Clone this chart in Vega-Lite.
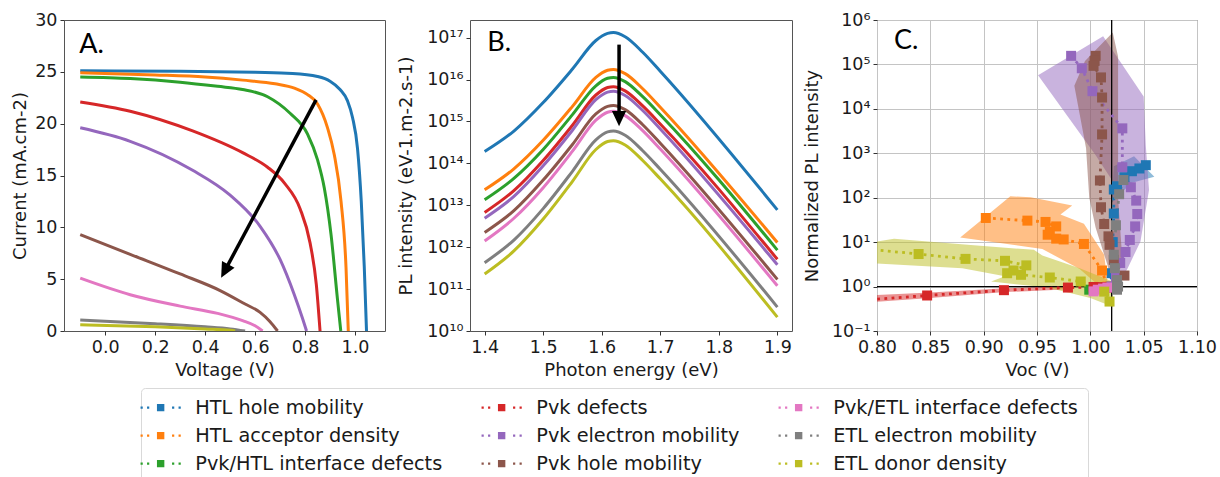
{
"$schema":"https://vega.github.io/schema/vega-lite/v6.json",
"background":"white",
"padding":{"left":10,"top":10,"right":0,"bottom":0},
"config":{
 "font":"DejaVu Sans",
 "view":{"stroke":"#555","strokeWidth":1},
 "axis":{"labelFont":"DejaVu Sans","titleFont":"DejaVu Sans","labelFontSize":17.5,"titleFontSize":18,"titleFontWeight":"normal","labelColor":"#1a1a1a","titleColor":"#1a1a1a","tickColor":"#333","tickSize":4,"labelPadding":3,"titlePadding":6,"domain":false,"grid":false,"labelFlush":false,"labelOverlap":false},
 "legend":{"orient":"none","legendX":77,"legendY":368,"columns":3,"columnPadding":38,"rowPadding":8,"padding":10,"strokeColor":"#d9d9d9","cornerRadius":4,"fillColor":"#ffffff","labelFontSize":19.3,"labelFont":"DejaVu Sans","labelColor":"#1a1a1a","labelLimit":400,"symbolType":"M-0.74,-0.74H0.74V0.74H-0.74Z M-4.02,-0.22H-3.58V0.22H-4.02Z M-2.72,-0.22H-2.28V0.22H-2.72Z M2.28,-0.22H2.72V0.22H2.28Z M3.58,-0.22H4.02V0.22H3.58Z","symbolSize":100,"symbolStrokeWidth":0,"labelOffset":25}
},
"datasets":{
"jv":[
{"s":"HTL hole mobility","v":-0.1,"j":25.1},{"s":"HTL hole mobility","v":0.3,"j":25.05},{"s":"HTL hole mobility","v":0.6,"j":24.95},{"s":"HTL hole mobility","v":0.75,"j":24.85},{"s":"HTL hole mobility","v":0.85,"j":24.55},{"s":"HTL hole mobility","v":0.9,"j":24.1},{"s":"HTL hole mobility","v":0.94,"j":23.3},{"s":"HTL hole mobility","v":0.97,"j":22.2},{"s":"HTL hole mobility","v":0.99,"j":20.6},{"s":"HTL hole mobility","v":1.01,"j":17.6},{"s":"HTL hole mobility","v":1.025,"j":12.5},{"s":"HTL hole mobility","v":1.037,"j":6.2},{"s":"HTL hole mobility","v":1.046,"j":0},
{"s":"HTL acceptor density","v":-0.1,"j":24.9},{"s":"HTL acceptor density","v":0.2,"j":24.7},{"s":"HTL acceptor density","v":0.4,"j":24.5},{"s":"HTL acceptor density","v":0.55,"j":24.2},{"s":"HTL acceptor density","v":0.68,"j":23.85},{"s":"HTL acceptor density","v":0.76,"j":23.4},{"s":"HTL acceptor density","v":0.81,"j":22.8},{"s":"HTL acceptor density","v":0.85,"j":21.9},{"s":"HTL acceptor density","v":0.89,"j":19.6},{"s":"HTL acceptor density","v":0.917,"j":17.0},{"s":"HTL acceptor density","v":0.944,"j":12.5},{"s":"HTL acceptor density","v":0.964,"j":6.1},{"s":"HTL acceptor density","v":0.973,"j":0},
{"s":"Pvk/HTL interface defects","v":-0.1,"j":24.5},{"s":"Pvk/HTL interface defects","v":0.1,"j":24.35},{"s":"Pvk/HTL interface defects","v":0.3,"j":24.0},{"s":"Pvk/HTL interface defects","v":0.45,"j":23.6},{"s":"Pvk/HTL interface defects","v":0.55,"j":23.3},{"s":"Pvk/HTL interface defects","v":0.65,"j":22.6},{"s":"Pvk/HTL interface defects","v":0.74,"j":21.0},{"s":"Pvk/HTL interface defects","v":0.81,"j":19.0},{"s":"Pvk/HTL interface defects","v":0.85,"j":16.5},{"s":"Pvk/HTL interface defects","v":0.877,"j":13.8},{"s":"Pvk/HTL interface defects","v":0.904,"j":9.3},{"s":"Pvk/HTL interface defects","v":0.93,"j":3.0},{"s":"Pvk/HTL interface defects","v":0.943,"j":0},
{"s":"Pvk defects","v":-0.1,"j":22.1},{"s":"Pvk defects","v":0.1,"j":21.2},{"s":"Pvk defects","v":0.35,"j":19.3},{"s":"Pvk defects","v":0.55,"j":17.2},{"s":"Pvk defects","v":0.65,"j":15.8},{"s":"Pvk defects","v":0.72,"j":14.2},{"s":"Pvk defects","v":0.78,"j":11.8},{"s":"Pvk defects","v":0.82,"j":8.5},{"s":"Pvk defects","v":0.845,"j":4.5},{"s":"Pvk defects","v":0.86,"j":0},
{"s":"Pvk electron mobility","v":-0.1,"j":19.6},{"s":"Pvk electron mobility","v":0.1,"j":18.3},{"s":"Pvk electron mobility","v":0.35,"j":15.5},{"s":"Pvk electron mobility","v":0.5,"j":13.1},{"s":"Pvk electron mobility","v":0.62,"j":10.1},{"s":"Pvk electron mobility","v":0.7,"j":6.9},{"s":"Pvk electron mobility","v":0.757,"j":3.5},{"s":"Pvk electron mobility","v":0.79,"j":1.2},{"s":"Pvk electron mobility","v":0.806,"j":0},
{"s":"Pvk hole mobility","v":-0.1,"j":9.3},{"s":"Pvk hole mobility","v":0.1,"j":7.4},{"s":"Pvk hole mobility","v":0.3,"j":5.5},{"s":"Pvk hole mobility","v":0.46,"j":3.9},{"s":"Pvk hole mobility","v":0.56,"j":2.6},{"s":"Pvk hole mobility","v":0.62,"j":1.8},{"s":"Pvk hole mobility","v":0.66,"j":0.9},{"s":"Pvk hole mobility","v":0.69,"j":0},
{"s":"Pvk/ETL interface defects","v":-0.1,"j":5.1},{"s":"Pvk/ETL interface defects","v":0.1,"j":3.5},{"s":"Pvk/ETL interface defects","v":0.3,"j":2.4},{"s":"Pvk/ETL interface defects","v":0.45,"j":1.7},{"s":"Pvk/ETL interface defects","v":0.55,"j":1.0},{"s":"Pvk/ETL interface defects","v":0.6,"j":0.5},{"s":"Pvk/ETL interface defects","v":0.63,"j":0},
{"s":"ETL electron mobility","v":-0.1,"j":1.05},{"s":"ETL electron mobility","v":0.2,"j":0.7},{"s":"ETL electron mobility","v":0.4,"j":0.4},{"s":"ETL electron mobility","v":0.5,"j":0.2},{"s":"ETL electron mobility","v":0.56,"j":0},
{"s":"ETL donor density","v":-0.1,"j":0.6},{"s":"ETL donor density","v":0.2,"j":0.4},{"s":"ETL donor density","v":0.4,"j":0.2},{"s":"ETL donor density","v":0.5,"j":0.08},{"s":"ETL donor density","v":0.52,"j":0}
],
"pl":[
{"s":"HTL hole mobility","e":1.40,"p":1.91e14},{"s":"HTL hole mobility","e":1.45,"p":5.89e14},{"s":"HTL hole mobility","e":1.50,"p":2.82e15},{"s":"HTL hole mobility","e":1.55,"p":1.78e16},{"s":"HTL hole mobility","e":1.59,"p":8.51e16},{"s":"HTL hole mobility","e":1.61,"p":1.26e17},{"s":"HTL hole mobility","e":1.62,"p":1.32e17},{"s":"HTL hole mobility","e":1.64,"p":1.05e17},{"s":"HTL hole mobility","e":1.67,"p":4.47e16},{"s":"HTL hole mobility","e":1.70,"p":1.58e16},{"s":"HTL hole mobility","e":1.90,"p":7.76e12},
{"s":"HTL acceptor density","e":1.40,"p":2.34e13},{"s":"HTL acceptor density","e":1.45,"p":7.41e13},{"s":"HTL acceptor density","e":1.50,"p":3.55e14},{"s":"HTL acceptor density","e":1.55,"p":2.29e15},{"s":"HTL acceptor density","e":1.59,"p":1.12e16},{"s":"HTL acceptor density","e":1.61,"p":1.66e16},{"s":"HTL acceptor density","e":1.62,"p":1.74e16},{"s":"HTL acceptor density","e":1.64,"p":1.38e16},{"s":"HTL acceptor density","e":1.67,"p":6.03e15},{"s":"HTL acceptor density","e":1.70,"p":2.19e15},{"s":"HTL acceptor density","e":1.90,"p":1.29e12},
{"s":"Pvk/HTL interface defects","e":1.40,"p":1.35e13},{"s":"Pvk/HTL interface defects","e":1.45,"p":4.37e13},{"s":"Pvk/HTL interface defects","e":1.50,"p":2.14e14},{"s":"Pvk/HTL interface defects","e":1.55,"p":1.45e15},{"s":"Pvk/HTL interface defects","e":1.59,"p":7.08e15},{"s":"Pvk/HTL interface defects","e":1.61,"p":1.07e16},{"s":"Pvk/HTL interface defects","e":1.62,"p":1.12e16},{"s":"Pvk/HTL interface defects","e":1.64,"p":8.91e15},{"s":"Pvk/HTL interface defects","e":1.67,"p":3.89e15},{"s":"Pvk/HTL interface defects","e":1.70,"p":1.45e15},{"s":"Pvk/HTL interface defects","e":1.90,"p":8.51e11},
{"s":"Pvk defects","e":1.40,"p":6.76e12},{"s":"Pvk defects","e":1.45,"p":2.24e13},{"s":"Pvk defects","e":1.50,"p":1.17e14},{"s":"Pvk defects","e":1.55,"p":8.13e14},{"s":"Pvk defects","e":1.59,"p":4.27e15},{"s":"Pvk defects","e":1.61,"p":6.46e15},{"s":"Pvk defects","e":1.62,"p":6.76e15},{"s":"Pvk defects","e":1.64,"p":5.37e15},{"s":"Pvk defects","e":1.67,"p":2.34e15},{"s":"Pvk defects","e":1.70,"p":8.71e14},{"s":"Pvk defects","e":1.90,"p":5.13e11},
{"s":"Pvk electron mobility","e":1.40,"p":4.90e12},{"s":"Pvk electron mobility","e":1.45,"p":1.62e13},{"s":"Pvk electron mobility","e":1.50,"p":8.71e13},{"s":"Pvk electron mobility","e":1.55,"p":6.17e14},{"s":"Pvk electron mobility","e":1.59,"p":3.31e15},{"s":"Pvk electron mobility","e":1.61,"p":5.01e15},{"s":"Pvk electron mobility","e":1.62,"p":5.25e15},{"s":"Pvk electron mobility","e":1.64,"p":4.17e15},{"s":"Pvk electron mobility","e":1.67,"p":1.82e15},{"s":"Pvk electron mobility","e":1.70,"p":6.61e14},{"s":"Pvk electron mobility","e":1.90,"p":3.80e11},
{"s":"Pvk hole mobility","e":1.40,"p":2.24e12},{"s":"Pvk hole mobility","e":1.45,"p":7.41e12},{"s":"Pvk hole mobility","e":1.50,"p":3.98e13},{"s":"Pvk hole mobility","e":1.55,"p":2.82e14},{"s":"Pvk hole mobility","e":1.59,"p":1.51e15},{"s":"Pvk hole mobility","e":1.61,"p":2.29e15},{"s":"Pvk hole mobility","e":1.62,"p":2.40e15},{"s":"Pvk hole mobility","e":1.64,"p":1.91e15},{"s":"Pvk hole mobility","e":1.67,"p":8.32e14},{"s":"Pvk hole mobility","e":1.70,"p":3.02e14},{"s":"Pvk hole mobility","e":1.90,"p":1.70e11},
{"s":"Pvk/ETL interface defects","e":1.40,"p":1.41e12},{"s":"Pvk/ETL interface defects","e":1.45,"p":4.90e12},{"s":"Pvk/ETL interface defects","e":1.50,"p":2.63e13},{"s":"Pvk/ETL interface defects","e":1.55,"p":1.95e14},{"s":"Pvk/ETL interface defects","e":1.59,"p":1.07e15},{"s":"Pvk/ETL interface defects","e":1.61,"p":1.66e15},{"s":"Pvk/ETL interface defects","e":1.62,"p":1.74e15},{"s":"Pvk/ETL interface defects","e":1.64,"p":1.38e15},{"s":"Pvk/ETL interface defects","e":1.67,"p":6.03e14},{"s":"Pvk/ETL interface defects","e":1.70,"p":2.19e14},{"s":"Pvk/ETL interface defects","e":1.90,"p":1.20e11},
{"s":"ETL electron mobility","e":1.40,"p":4.27e11},{"s":"ETL electron mobility","e":1.45,"p":1.48e12},{"s":"ETL electron mobility","e":1.50,"p":8.32e12},{"s":"ETL electron mobility","e":1.55,"p":6.46e13},{"s":"ETL electron mobility","e":1.59,"p":3.63e14},{"s":"ETL electron mobility","e":1.61,"p":5.62e14},{"s":"ETL electron mobility","e":1.62,"p":5.89e14},{"s":"ETL electron mobility","e":1.64,"p":4.68e14},{"s":"ETL electron mobility","e":1.67,"p":2.00e14},{"s":"ETL electron mobility","e":1.70,"p":7.24e13},{"s":"ETL electron mobility","e":1.90,"p":3.72e10},
{"s":"ETL donor density","e":1.40,"p":2.29e11},{"s":"ETL donor density","e":1.45,"p":8.13e11},{"s":"ETL donor density","e":1.50,"p":4.68e12},{"s":"ETL donor density","e":1.55,"p":3.72e13},{"s":"ETL donor density","e":1.59,"p":2.14e14},{"s":"ETL donor density","e":1.61,"p":3.31e14},{"s":"ETL donor density","e":1.62,"p":3.47e14},{"s":"ETL donor density","e":1.64,"p":2.75e14},{"s":"ETL donor density","e":1.67,"p":1.17e14},{"s":"ETL donor density","e":1.70,"p":4.27e13},{"s":"ETL donor density","e":1.90,"p":2.14e10}
],
"pts":[
{"s":"HTL hole mobility","i":1,"x":1.019,"y":1.0},{"s":"HTL hole mobility","i":2,"x":1.02,"y":2},{"s":"HTL hole mobility","i":3,"x":1.021,"y":10},{"s":"HTL hole mobility","i":4,"x":1.022,"y":44},{"s":"HTL hole mobility","i":5,"x":1.022,"y":153},{"s":"HTL hole mobility","i":6,"x":1.025,"y":181},{"s":"HTL hole mobility","i":7,"x":1.032,"y":289},{"s":"HTL hole mobility","i":8,"x":1.039,"y":395},{"s":"HTL hole mobility","i":9,"x":1.046,"y":455},{"s":"HTL hole mobility","i":10,"x":1.052,"y":540},
{"s":"HTL acceptor density","i":1,"x":0.902,"y":35},{"s":"HTL acceptor density","i":2,"x":0.941,"y":30.5},{"s":"HTL acceptor density","i":3,"x":0.958,"y":28.5},{"s":"HTL acceptor density","i":4,"x":0.968,"y":22.6},{"s":"HTL acceptor density","i":5,"x":0.962,"y":17},{"s":"HTL acceptor density","i":6,"x":0.96,"y":14.7},{"s":"HTL acceptor density","i":7,"x":0.968,"y":12},{"s":"HTL acceptor density","i":8,"x":0.975,"y":11.5},{"s":"HTL acceptor density","i":9,"x":0.994,"y":9.1},{"s":"HTL acceptor density","i":10,"x":1.011,"y":2.3},{"s":"HTL acceptor density","i":11,"x":1.016,"y":1.0},
{"s":"Pvk/HTL interface defects","i":1,"x":0.999,"y":0.85},{"s":"Pvk/HTL interface defects","i":2,"x":1.005,"y":0.9},{"s":"Pvk/HTL interface defects","i":3,"x":1.012,"y":0.95},
{"s":"Pvk defects","i":1,"x":0.78,"y":0.48},{"s":"Pvk defects","i":2,"x":0.847,"y":0.63},{"s":"Pvk defects","i":3,"x":0.919,"y":0.83},{"s":"Pvk defects","i":4,"x":0.979,"y":0.95},{"s":"Pvk defects","i":5,"x":1.003,"y":0.98},{"s":"Pvk defects","i":6,"x":1.01,"y":0.97},{"s":"Pvk defects","i":7,"x":1.015,"y":0.95},
{"s":"Pvk electron mobility","i":1,"x":0.982,"y":156000},{"s":"Pvk electron mobility","i":2,"x":0.992,"y":82000},{"s":"Pvk electron mobility","i":3,"x":1.002,"y":25000},{"s":"Pvk electron mobility","i":4,"x":1.03,"y":3640},{"s":"Pvk electron mobility","i":5,"x":1.03,"y":486},{"s":"Pvk electron mobility","i":6,"x":1.038,"y":172},{"s":"Pvk electron mobility","i":7,"x":1.043,"y":86},{"s":"Pvk electron mobility","i":8,"x":1.044,"y":43},{"s":"Pvk electron mobility","i":9,"x":1.042,"y":22.6},{"s":"Pvk electron mobility","i":10,"x":1.037,"y":11.2},{"s":"Pvk electron mobility","i":11,"x":1.033,"y":6.0},{"s":"Pvk electron mobility","i":12,"x":1.028,"y":3.4},{"s":"Pvk electron mobility","i":13,"x":1.024,"y":1.6},{"s":"Pvk electron mobility","i":14,"x":1.02,"y":1.0},
{"s":"Pvk hole mobility","i":1,"x":1.005,"y":156000},{"s":"Pvk hole mobility","i":2,"x":1.004,"y":120000},{"s":"Pvk hole mobility","i":3,"x":1.003,"y":93000},{"s":"Pvk hole mobility","i":4,"x":1.010,"y":51000},{"s":"Pvk hole mobility","i":5,"x":1.011,"y":18000},{"s":"Pvk hole mobility","i":6,"x":1.011,"y":2660},{"s":"Pvk hole mobility","i":7,"x":1.009,"y":244},{"s":"Pvk hole mobility","i":8,"x":1.010,"y":61},{"s":"Pvk hole mobility","i":9,"x":1.013,"y":25.6},{"s":"Pvk hole mobility","i":10,"x":1.017,"y":13.5},{"s":"Pvk hole mobility","i":11,"x":1.018,"y":8.7},{"s":"Pvk hole mobility","i":12,"x":1.022,"y":4.0},{"s":"Pvk hole mobility","i":13,"x":1.032,"y":1.77},
{"s":"Pvk/ETL interface defects","i":1,"x":1.003,"y":0.78},{"s":"Pvk/ETL interface defects","i":2,"x":1.007,"y":0.85},{"s":"Pvk/ETL interface defects","i":3,"x":1.012,"y":0.9},{"s":"Pvk/ETL interface defects","i":4,"x":1.016,"y":0.95},
{"s":"ETL electron mobility","i":1,"x":1.031,"y":250},{"s":"ETL electron mobility","i":2,"x":1.027,"y":120},{"s":"ETL electron mobility","i":3,"x":1.024,"y":24},{"s":"ETL electron mobility","i":4,"x":1.022,"y":5.2},{"s":"ETL electron mobility","i":5,"x":1.023,"y":2.6},{"s":"ETL electron mobility","i":6,"x":1.025,"y":1.4},{"s":"ETL electron mobility","i":7,"x":1.026,"y":1.0},{"s":"ETL electron mobility","i":8,"x":1.025,"y":0.85},
{"s":"ETL donor density","i":1,"x":0.79,"y":7.0},{"s":"ETL donor density","i":2,"x":0.839,"y":5.4},{"s":"ETL donor density","i":3,"x":0.883,"y":4.2},{"s":"ETL donor density","i":4,"x":0.920,"y":3.8},{"s":"ETL donor density","i":5,"x":0.940,"y":3.0},{"s":"ETL donor density","i":6,"x":0.922,"y":2.0},{"s":"ETL donor density","i":7,"x":0.928,"y":2.3},{"s":"ETL donor density","i":8,"x":0.935,"y":1.84},{"s":"ETL donor density","i":9,"x":0.962,"y":1.6},{"s":"ETL donor density","i":10,"x":0.991,"y":1.3},{"s":"ETL donor density","i":11,"x":1.013,"y":0.77},{"s":"ETL donor density","i":12,"x":1.018,"y":0.46}
],
"bands":[
{"s":"HTL hole mobility","i":1,"x":1.022,"y":510},{"s":"HTL hole mobility","i":2,"x":1.041,"y":860},{"s":"HTL hole mobility","i":3,"x":1.060,"y":295},{"s":"HTL hole mobility","i":4,"x":1.039,"y":216},{"s":"HTL hole mobility","i":5,"x":1.027,"y":117},{"s":"HTL hole mobility","i":6,"x":1.020,"y":76},
{"s":"HTL acceptor density","i":1,"x":0.878,"y":12.8},{"s":"HTL acceptor density","i":2,"x":0.925,"y":108},{"s":"HTL acceptor density","i":3,"x":0.944,"y":102},{"s":"HTL acceptor density","i":4,"x":0.983,"y":67},{"s":"HTL acceptor density","i":5,"x":0.972,"y":42},{"s":"HTL acceptor density","i":6,"x":0.994,"y":26},{"s":"HTL acceptor density","i":7,"x":1.013,"y":5.2},{"s":"HTL acceptor density","i":8,"x":1.016,"y":1.3},{"s":"HTL acceptor density","i":9,"x":1.007,"y":1.1},{"s":"HTL acceptor density","i":10,"x":0.99,"y":2.5},{"s":"HTL acceptor density","i":11,"x":0.955,"y":7.0},
{"s":"Pvk defects","i":1,"x":0.79,"y":0.63},{"s":"Pvk defects","i":2,"x":0.85,"y":0.74},{"s":"Pvk defects","i":3,"x":0.92,"y":0.92},{"s":"Pvk defects","i":4,"x":0.985,"y":1.03},{"s":"Pvk defects","i":5,"x":0.985,"y":0.88},{"s":"Pvk defects","i":6,"x":0.92,"y":0.75},{"s":"Pvk defects","i":7,"x":0.85,"y":0.55},{"s":"Pvk defects","i":8,"x":0.79,"y":0.44},
{"s":"Pvk electron mobility","i":1,"x":0.951,"y":57000},{"s":"Pvk electron mobility","i":2,"x":1.012,"y":430000},{"s":"Pvk electron mobility","i":3,"x":1.050,"y":19000},{"s":"Pvk electron mobility","i":4,"x":1.052,"y":1500},{"s":"Pvk electron mobility","i":5,"x":1.055,"y":150},{"s":"Pvk electron mobility","i":6,"x":1.047,"y":10.4},{"s":"Pvk electron mobility","i":7,"x":1.035,"y":2.6},{"s":"Pvk electron mobility","i":8,"x":1.028,"y":1.3},{"s":"Pvk electron mobility","i":9,"x":1.022,"y":2.6},{"s":"Pvk electron mobility","i":10,"x":1.021,"y":235},{"s":"Pvk electron mobility","i":11,"x":1.005,"y":900},
{"s":"Pvk hole mobility","i":1,"x":1.021,"y":520000},{"s":"Pvk hole mobility","i":2,"x":1.026,"y":150000},{"s":"Pvk hole mobility","i":3,"x":1.026,"y":3000},{"s":"Pvk hole mobility","i":4,"x":1.026,"y":100},{"s":"Pvk hole mobility","i":5,"x":1.03,"y":4},{"s":"Pvk hole mobility","i":6,"x":1.021,"y":1.0},{"s":"Pvk hole mobility","i":7,"x":1.016,"y":3.1},{"s":"Pvk hole mobility","i":8,"x":1.005,"y":21},{"s":"Pvk hole mobility","i":9,"x":0.999,"y":100},{"s":"Pvk hole mobility","i":10,"x":0.996,"y":1300},{"s":"Pvk hole mobility","i":11,"x":0.985,"y":33000},{"s":"Pvk hole mobility","i":12,"x":0.995,"y":120000},
{"s":"ETL donor density","i":1,"x":0.80,"y":10.4},{"s":"ETL donor density","i":2,"x":0.816,"y":12},{"s":"ETL donor density","i":3,"x":0.882,"y":8.8},{"s":"ETL donor density","i":4,"x":0.947,"y":6.7},{"s":"ETL donor density","i":5,"x":0.955,"y":5.0},{"s":"ETL donor density","i":6,"x":0.99,"y":2.6},{"s":"ETL donor density","i":7,"x":1.021,"y":1.3},{"s":"ETL donor density","i":8,"x":1.021,"y":0.35},{"s":"ETL donor density","i":9,"x":1.0,"y":0.55},{"s":"ETL donor density","i":10,"x":0.96,"y":0.95},{"s":"ETL donor density","i":11,"x":0.907,"y":1.3},{"s":"ETL donor density","i":12,"x":0.92,"y":1.7},{"s":"ETL donor density","i":13,"x":0.88,"y":2.6},{"s":"ETL donor density","i":14,"x":0.80,"y":3.3}
]
},
"resolve":{"scale":{"color":"shared"},"legend":{"color":"shared"}},
"spacing":10,
"hconcat":[
{"width":321,"height":311,
 "layer":[
  {"data":{"name":"jv"},"mark":{"type":"line","strokeWidth":3,"interpolate":"monotone","clip":true},
   "encoding":{
    "x":{"field":"v","type":"quantitative","scale":{"domain":[-0.165,1.12],"nice":false,"zero":false},"axis":{"title":"Voltage (V)","values":[0,0.2,0.4,0.6,0.8,1],"format":".1f"}},
    "y":{"field":"j","type":"quantitative","scale":{"domain":[0,30],"nice":false},"axis":{"title":"Current (mA.cm-2)","values":[0,5,10,15,20,25,30],"minExtent":29,"maxExtent":29,"titlePadding":6}},
    "color":{"field":"s","type":"nominal","scale":{"domain":["HTL hole mobility","HTL acceptor density","Pvk/HTL interface defects","Pvk defects","Pvk electron mobility","Pvk hole mobility","Pvk/ETL interface defects","ETL electron mobility","ETL donor density"],"range":["#1f77b4","#ff7f0e","#2ca02c","#d62728","#9467bd","#8c564b","#e377c2","#7f7f7f","#bcbd22"]},
     "legend":{"title":null,"encode":{"symbols":{"update":{"fill":{"scale":"color","field":"value"},"stroke":{"value":"transparent"},"opacity":{"value":1}}}}}}}},
  {"data":{"values":[{}]},"mark":{"type":"rule","strokeWidth":3.5,"color":"black"},"encoding":{"x":{"datum":0.844},"y":{"datum":22.3},"x2":{"datum":0.479},"y2":{"datum":5.82}}},
  {"data":{"values":[{}]},"mark":{"type":"point","shape":"M0,0L-0.75,-1.6L0.75,-1.6Z","size":361,"filled":true,"color":"black","opacity":1,"angle":28},"encoding":{"x":{"datum":0.464},"y":{"datum":5.14}}},
  {"data":{"values":[{}]},"mark":{"type":"text","text":"A.","font":"Lato","fontSize":27,"align":"left","baseline":"alphabetic","color":"black"},"encoding":{"x":{"datum":-0.104},"y":{"datum":26.8}}}
 ]},
{"width":322,"height":311,
 "layer":[
  {"data":{"name":"pl"},"mark":{"type":"line","strokeWidth":3,"interpolate":"monotone","clip":true},
   "encoding":{
    "x":{"field":"e","type":"quantitative","scale":{"domain":[1.375,1.925],"nice":false,"zero":false},"axis":{"title":"Photon energy (eV)","values":[1.4,1.5,1.6,1.7,1.8,1.9],"format":".1f"}},
    "y":{"field":"p","type":"quantitative","scale":{"type":"log","domain":[1e10,2.63e17],"nice":false},"axis":{"title":"PL intensity (eV-1.m-2.s-1)","values":[1e10,1e11,1e12,1e13,1e14,1e15,1e16,1e17],"minExtent":50,"maxExtent":50,"titlePadding":5,"labelExpr":"'10' + replace(replace(replace(replace(replace(replace(replace(replace(replace(replace(replace(format(round(log(datum.value)/LN10),'d'),regexp('[-\u2212]','g'),'⁻'),regexp('0','g'),'⁰'),regexp('1','g'),'¹'),regexp('2','g'),'²'),regexp('3','g'),'³'),regexp('4','g'),'⁴'),regexp('5','g'),'⁵'),regexp('6','g'),'⁶'),regexp('7','g'),'⁷'),regexp('8','g'),'⁸'),regexp('9','g'),'⁹')"}},
    "color":{"field":"s","type":"nominal","scale":{"domain":["HTL hole mobility","HTL acceptor density","Pvk/HTL interface defects","Pvk defects","Pvk electron mobility","Pvk hole mobility","Pvk/ETL interface defects","ETL electron mobility","ETL donor density"],"range":["#1f77b4","#ff7f0e","#2ca02c","#d62728","#9467bd","#8c564b","#e377c2","#7f7f7f","#bcbd22"]},
     "legend":{"title":null,"encode":{"symbols":{"update":{"fill":{"scale":"color","field":"value"},"stroke":{"value":"transparent"},"opacity":{"value":1}}}}}}}},
  {"data":{"values":[{}]},"mark":{"type":"rule","strokeWidth":3.5,"color":"black"},"encoding":{"x":{"datum":1.6296},"y":{"datum":6.8e16},"y2":{"datum":1.2e15}}},
  {"data":{"values":[{}]},"mark":{"type":"point","shape":"M0,0L-0.75,-1.6L0.75,-1.6Z","size":361,"filled":true,"color":"black","opacity":1,"angle":0},"encoding":{"x":{"datum":1.6296},"y":{"datum":7.7e14}}},
  {"data":{"values":[{}]},"mark":{"type":"text","text":"B.","font":"Lato","fontSize":27,"align":"left","baseline":"alphabetic","color":"black"},"encoding":{"x":{"datum":1.4045},"y":{"datum":4.8e16}}}
 ]},
{"width":320,"height":311,
 "layer":[
  {"data":{"name":"bands"},"mark":{"type":"line","fillOpacity":0.5,"strokeOpacity":0,"interpolate":"linear-closed","clip":true},
   "encoding":{
    "x":{"field":"x","type":"quantitative","scale":{"domain":[0.8,1.1],"nice":false,"zero":false},"axis":{"title":"Voc (V)","values":[0.8,0.85,0.9,0.95,1.0,1.05,1.1],"format":".2f","grid":true,"gridColor":"#c4c4c4","gridWidth":1}},
    "y":{"field":"y","type":"quantitative","scale":{"type":"log","domain":[0.1,1e6],"nice":false},"axis":{"title":"Normalized PL intensity","values":[0.1,1,10,100,1000,10000,100000,1000000],"minExtent":50,"maxExtent":50,"titlePadding":5.5,"grid":true,"gridColor":"#c4c4c4","gridWidth":1,"labelExpr":"'10' + replace(replace(replace(replace(replace(replace(replace(replace(replace(replace(replace(format(round(log(datum.value)/LN10),'d'),regexp('[-\u2212]','g'),'⁻'),regexp('0','g'),'⁰'),regexp('1','g'),'¹'),regexp('2','g'),'²'),regexp('3','g'),'³'),regexp('4','g'),'⁴'),regexp('5','g'),'⁵'),regexp('6','g'),'⁶'),regexp('7','g'),'⁷'),regexp('8','g'),'⁸'),regexp('9','g'),'⁹')"}},
    "order":{"field":"i","type":"quantitative"},
    "detail":{"field":"s"},
    "fill":{"field":"s","type":"nominal","scale":{"domain":["HTL hole mobility","HTL acceptor density","Pvk/HTL interface defects","Pvk defects","Pvk electron mobility","Pvk hole mobility","Pvk/ETL interface defects","ETL electron mobility","ETL donor density"],"range":["#1f77b4","#ff7f0e","#2ca02c","#d62728","#9467bd","#8c564b","#e377c2","#7f7f7f","#bcbd22"]},"legend":null}}},
  {"data":{"values":[{}]},"mark":{"type":"rule","strokeWidth":1.3,"color":"black"},"encoding":{"x":{"datum":1.02}}},
  {"data":{"values":[{}]},"mark":{"type":"rule","strokeWidth":1.3,"color":"black"},"encoding":{"y":{"datum":1}}},
  {"data":{"name":"pts"},"mark":{"type":"line","strokeWidth":2.8,"strokeDash":[2.8,4.4],"clip":true},
   "encoding":{"x":{"field":"x","type":"quantitative"},"y":{"field":"y","type":"quantitative"},"order":{"field":"i","type":"quantitative"},
    "color":{"field":"s","type":"nominal","scale":{"domain":["HTL hole mobility","HTL acceptor density","Pvk/HTL interface defects","Pvk defects","Pvk electron mobility","Pvk hole mobility","Pvk/ETL interface defects","ETL electron mobility","ETL donor density"],"range":["#1f77b4","#ff7f0e","#2ca02c","#d62728","#9467bd","#8c564b","#e377c2","#7f7f7f","#bcbd22"]},
     "legend":{"title":null,"encode":{"symbols":{"update":{"fill":{"scale":"color","field":"value"},"stroke":{"value":"transparent"},"opacity":{"value":1}}}}}}}},
  {"data":{"name":"pts"},"mark":{"type":"point","shape":"square","size":100,"filled":true,"opacity":1,"clip":true},
   "encoding":{"x":{"field":"x","type":"quantitative"},"y":{"field":"y","type":"quantitative"},
    "color":{"field":"s","type":"nominal","scale":{"domain":["HTL hole mobility","HTL acceptor density","Pvk/HTL interface defects","Pvk defects","Pvk electron mobility","Pvk hole mobility","Pvk/ETL interface defects","ETL electron mobility","ETL donor density"],"range":["#1f77b4","#ff7f0e","#2ca02c","#d62728","#9467bd","#8c564b","#e377c2","#7f7f7f","#bcbd22"]},
     "legend":{"title":null,"encode":{"symbols":{"update":{"fill":{"scale":"color","field":"value"},"stroke":{"value":"transparent"},"opacity":{"value":1}}}}}}}},
  {"data":{"values":[{}]},"mark":{"type":"text","text":"C.","font":"Lato","fontSize":27,"align":"left","baseline":"alphabetic","color":"black"},"encoding":{"x":{"datum":0.816},"y":{"datum":220000}}}
 ]}
]
}
